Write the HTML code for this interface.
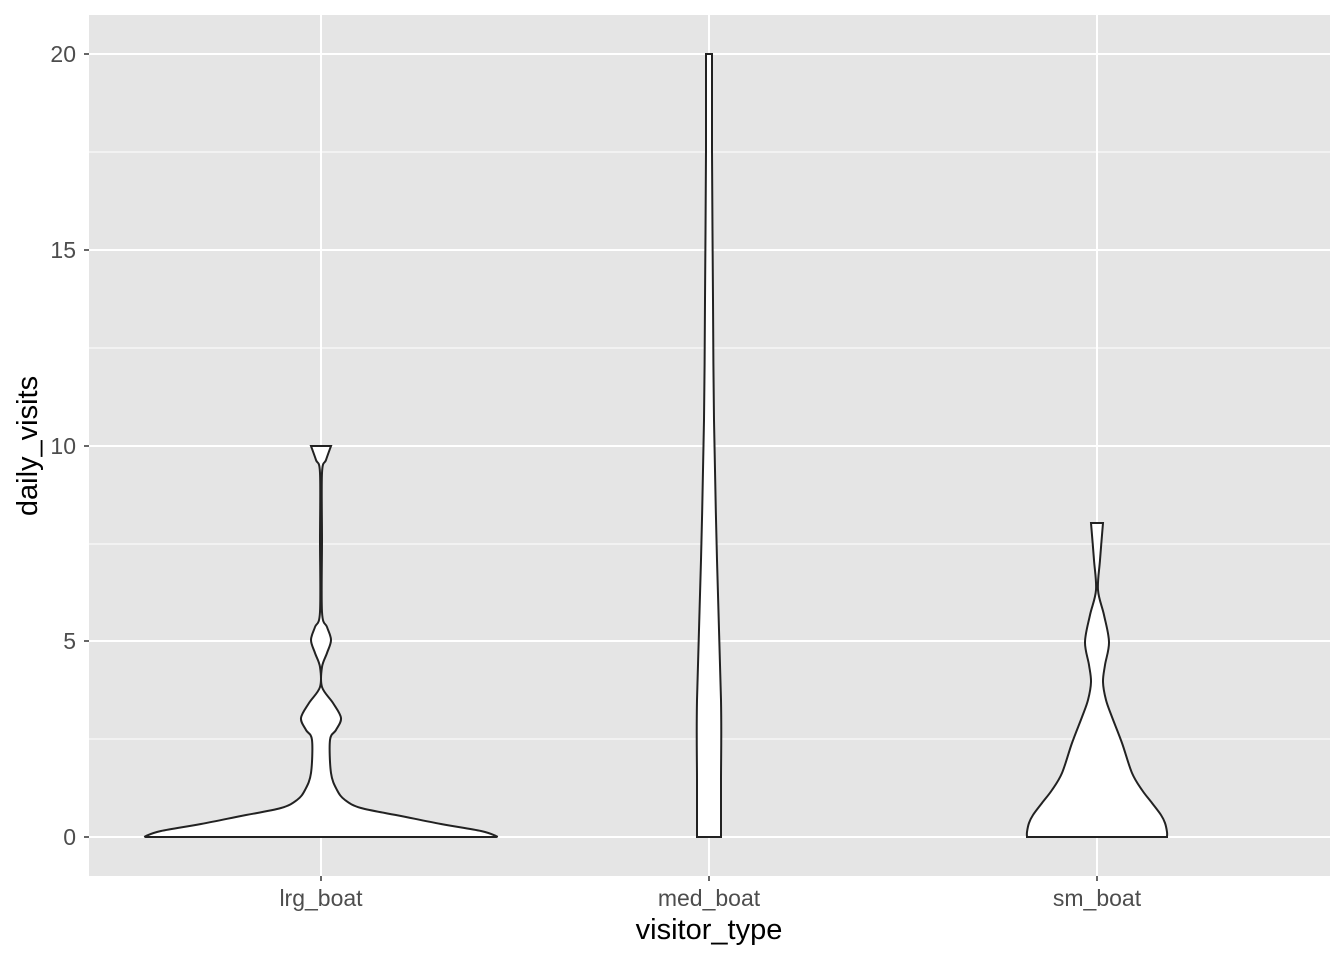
<!DOCTYPE html>
<html><head><style>body{margin:0;background:#fff}svg{display:block}</style></head><body>
<svg id="s" width="1344" height="960" xmlns="http://www.w3.org/2000/svg" font-family="Liberation Sans, sans-serif">
<rect x="89" y="15" width="1241" height="861" fill="#e5e5e5"/>
<g stroke="#fff" stroke-width="1">
<line x1="89" x2="1330" y1="739" y2="739"/><line x1="89" x2="1330" y1="544" y2="544"/><line x1="89" x2="1330" y1="348" y2="348"/><line x1="89" x2="1330" y1="152" y2="152"/>
</g>
<g stroke="#fff" stroke-width="2">
<line x1="89" x2="1330" y1="837" y2="837"/><line x1="89" x2="1330" y1="641" y2="641"/><line x1="89" x2="1330" y1="446" y2="446"/><line x1="89" x2="1330" y1="250" y2="250"/><line x1="89" x2="1330" y1="54" y2="54"/>
<line x1="321" x2="321" y1="15" y2="876"/><line x1="709" x2="709" y1="15" y2="876"/><line x1="1097" x2="1097" y1="15" y2="876"/>
</g>
<g id="v" fill="#fff" stroke="#222" stroke-width="2"></g>
<g stroke="#333" stroke-width="1.5">
<line x1="84" x2="89" y1="837" y2="837"/><line x1="84" x2="89" y1="641" y2="641"/><line x1="84" x2="89" y1="446" y2="446"/><line x1="84" x2="89" y1="250" y2="250"/><line x1="84" x2="89" y1="54" y2="54"/>
<line x1="321" x2="321" y1="876" y2="881"/><line x1="709" x2="709" y1="876" y2="881"/><line x1="1097" x2="1097" y1="876" y2="881"/>
</g>
<g fill="#4d4d4d" font-size="23" text-anchor="end">
<text x="76" y="845">0</text><text x="76" y="649">5</text><text x="76" y="454">10</text><text x="76" y="258">15</text><text x="76" y="62">20</text>
</g>
<g fill="#4d4d4d" font-size="23" text-anchor="middle">
<text x="321" y="906">lrg_boat</text><text x="709" y="906">med_boat</text><text x="1097" y="906">sm_boat</text>
</g>
<text x="709" y="939" font-size="29" text-anchor="middle" fill="#000">visitor_type</text>
<text transform="translate(37,446) rotate(-90)" font-size="29" text-anchor="middle" fill="#000">daily_visits</text>
</svg>
<script>
function vio(cx,pts){
 function cr(p){let d='';for(let i=0;i<p.length-1;i++){const p0=p[Math.max(0,i-1)],p1=p[i],p2=p[i+1],p3=p[Math.min(p.length-1,i+2)];
 const c1=[p1[0]+(p2[0]-p0[0])/6,p1[1]+(p2[1]-p0[1])/6],c2=[p2[0]-(p3[0]-p1[0])/6,p2[1]-(p3[1]-p1[1])/6];
 d+=` C${c1[0]},${c1[1]} ${c2[0]},${c2[1]} ${p2[0]},${p2[1]}`;}return d;}
 const R=pts.map(p=>[cx+p[1],p[0]]);const L=pts.slice().reverse().map(p=>[cx-p[1],p[0]]);
 let d=`M${R[0][0]},${R[0][1]}`+cr(R)+` L${L[0][0]},${L[0][1]}`+cr(L)+'Z';
 const e=document.createElementNS('http://www.w3.org/2000/svg','path');e.setAttribute('d',d);document.getElementById('v').appendChild(e);
}
vio(321,[[446,10],[460,5],[473,1],[540,1],[612,1],[627,6],[640,10],[653,6],[667,1],[687,1],[703,12],[718,20],[730,15],[740,9],[773,10],[790,16],[800,24],[808,40],[816,80],[824,120],[831,160],[836,175],[837,175]]);
vio(709,[[54,3],[150,3],[300,4],[420,5],[560,8],[700,12],[780,12],[837,12]]);
vio(1097,[[523,6],[560,3],[590,1],[615,7],[642,12],[665,8],[682,6],[700,9],[717,15],[743,25],[773,35],[790,45],[803,55],[815,64],[823,68],[832,70],[837,70]]);
</script>
</body></html>
